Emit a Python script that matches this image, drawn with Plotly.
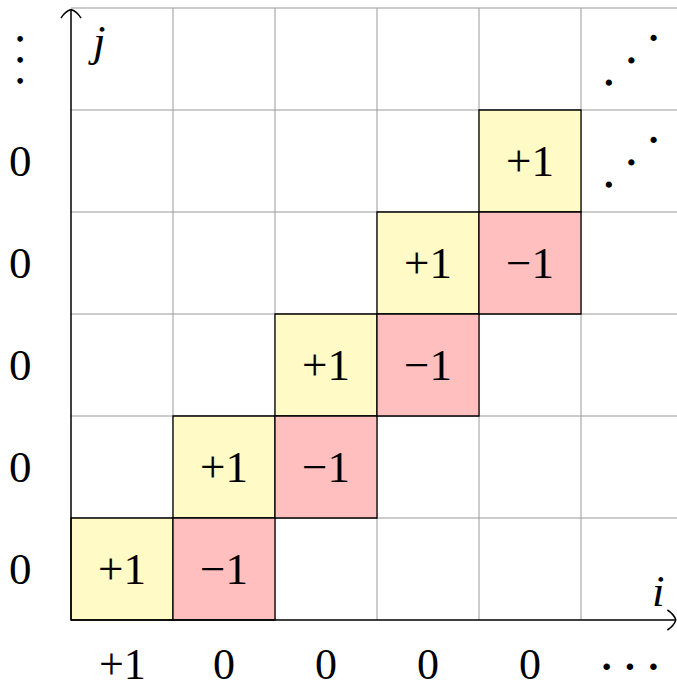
import plotly.graph_objects as go

# ---- data ----
n_cols = 6
n_rows = 6
plus_i = [0, 1, 2, 3, 4]
plus_j = [0, 1, 2, 3, 4]
plus_text = ["+1", "+1", "+1", "+1", "+1"]
minus_i = [1, 2, 3, 4]
minus_j = [0, 1, 2, 3]
minus_text = ["\u22121", "\u22121", "\u22121", "\u22121"]
bottom_labels = ["+1", "0", "0", "0", "0"]
left_labels = ["0", "0", "0", "0", "0"]
diag_dot_rows = [5, 4]

# ---- style ----
U = 1 / 102.0  # one pixel in data units
OX, OY = 71, 620  # origin in figure pixels
YELLOW = "#FFFAC6"
PINK = "#FFBFBF"
GRID = "#9a9a9a"
FONT = "Liberation Serif"
FS = 45

fig = go.Figure()

shapes = []
for k in range(1, n_cols + 1):
    shapes.append(dict(type="line", x0=k, x1=k, y0=0, y1=n_rows,
                       line=dict(color=GRID, width=1), layer="below"))
for k in range(1, n_rows + 1):
    shapes.append(dict(type="line", x0=0, x1=n_cols, y0=k, y1=k,
                       line=dict(color=GRID, width=1), layer="below"))
for i, j in zip(plus_i, plus_j):
    shapes.append(dict(type="rect", x0=i, x1=i + 1, y0=j, y1=j + 1,
                       fillcolor=YELLOW, line=dict(color="black", width=1.3)))
for i, j in zip(minus_i, minus_j):
    shapes.append(dict(type="rect", x0=i, x1=i + 1, y0=j, y1=j + 1,
                       fillcolor=PINK, line=dict(color="black", width=1.3)))

ytip = 5.985
xtip = 5.93
shapes.append(dict(type="line", x0=0, x1=0, y0=0, y1=ytip,
                   line=dict(color="black", width=1.5)))
shapes.append(dict(type="line", x0=0, x1=xtip, y0=0, y1=0,
                   line=dict(color="black", width=1.5)))

# arrow arm (along, lateral) in px: tail, control, tip
ARM = [(-8.5, 10.0), (-2.0, 6.0), (0.0, 0.0)]


def arrow(x0, y0, up):
    d = ""
    for s in (-1, 1):
        pts = [(a * U, l * U * s) for a, l in ARM]
        if up:
            p = [(x0 + l, y0 + a) for a, l in pts]
        else:
            p = [(x0 + a, y0 + l) for a, l in pts]
        d += "M{},{} Q{},{} {},{} ".format(
            p[0][0], p[0][1], p[1][0], p[1][1], p[2][0], p[2][1])
    return d


shapes.append(dict(type="path", path=arrow(0, ytip, True),
                   line=dict(color="black", width=1.5)))
shapes.append(dict(type="path", path=arrow(xtip, 0, False),
                   line=dict(color="black", width=1.5)))

annotations = []


def txt(x, y, t, size=FS, family=FONT, angle=0):
    annotations.append(dict(x=x, y=y, text=t, showarrow=False,
                            xanchor="center", yanchor="middle", textangle=angle,
                            font=dict(family=family, size=size, color="black")))


for i, j, t in zip(plus_i, plus_j, plus_text):
    txt(i + 0.5, j + 0.5, t)
for i, j, t in zip(minus_i, minus_j, minus_text):
    txt(i + 0.5, j + 0.5, t)
for k, t in enumerate(bottom_labels):
    txt(k + 0.5, -0.435, t, size=44)
for k, t in enumerate(left_labels):
    txt(-0.5, k + 0.5, t)

DOTS = "<b>\u00b7 \u00b7 \u00b7</b>"
DDOTS = "<b>\u00b7\u2002\u00b7\u2002\u00b7</b>"
VDOTS = "<b>\u2022<br>\u2022<br>\u2022</b>"
txt(5.48, -0.46, DOTS, size=40)
txt(-0.5, 5.49, VDOTS, size=16, family="DejaVu Sans")
for r in diag_dot_rows:
    txt(5.49, r + 0.49, DDOTS, size=38, angle=-45)

txt(0.25, 5.68, "<i>j</i>")
txt(5.76, 0.28, "<i>i</i>")

fig.update_layout(
    width=677, height=689,
    margin=dict(l=0, r=0, t=0, b=0),
    paper_bgcolor="white", plot_bgcolor="white",
    xaxis=dict(range=[-OX * U, (677 - OX) * U], visible=False, fixedrange=True),
    yaxis=dict(range=[(OY - 689) * U, OY * U], visible=False, fixedrange=True),
    shapes=shapes, annotations=annotations, showlegend=False,
)

fig.write_html("out.html", config={"displayModeBar": False},
               post_script="document.body.style.margin='0';"
                           "document.body.style.overflow='hidden';")
